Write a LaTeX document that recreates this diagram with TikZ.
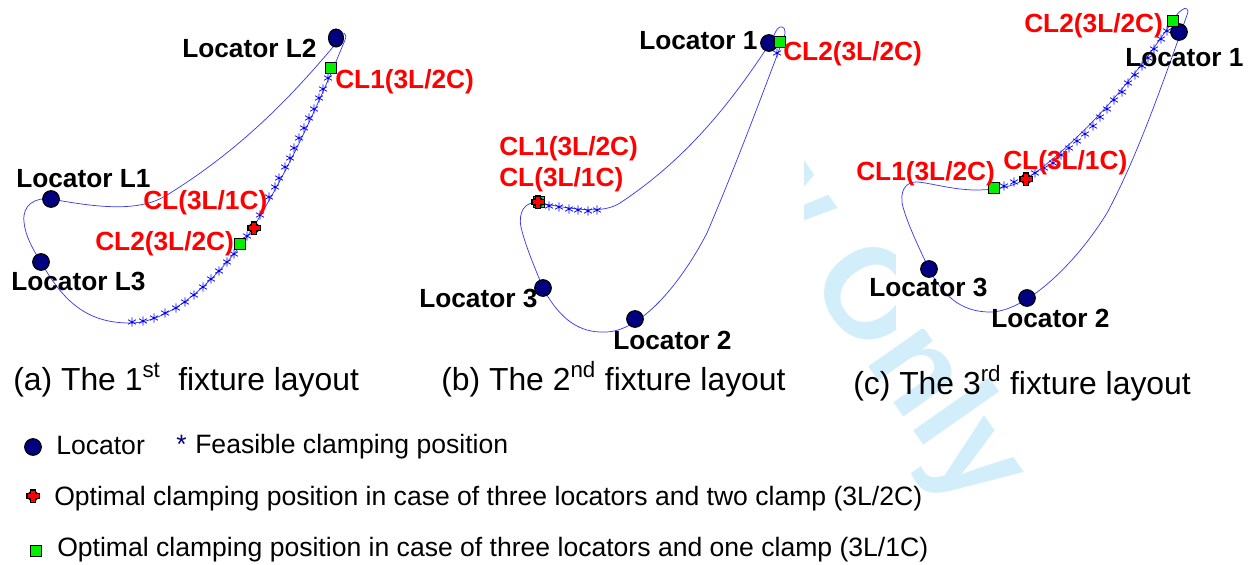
\documentclass[tikz,border=0pt]{standalone}
\usepackage{fontspec}
\setmainfont{Liberation Sans}
\usetikzlibrary{plotmarks,shapes.geometric}
\definecolor{wm}{HTML}{D3EEFB}
\definecolor{curve}{HTML}{3A3AF5}
\definecolor{loc}{HTML}{000080}
\definecolor{okgreen}{HTML}{00F000}
\tikzset{
  x=0.75pt,y=-0.75pt,
  lab/.style={anchor=base west,inner sep=0pt,font=\fontsize{19.7pt}{22pt}\selectfont\bfseries},
  blk/.style={lab,text=black},
  rd/.style={lab,text=red},
  captext/.style={anchor=base west,inner sep=0pt,font=\fontsize{23.9pt}{28pt}\selectfont},
  legtext/.style={anchor=base west,inner sep=0pt,font=\fontsize{19.92pt}{22pt}\selectfont},
  wmtxt/.style={inner sep=0pt,rotate=-55,text=wm,font=\fontsize{96pt}{100pt}\selectfont\bfseries},
  foil/.style={draw=curve,line width=0.55pt,line join=round},
  stars/.style={only marks,mark=asterisk,mark size=3.4pt,mark options={draw=blue,line width=0.55pt}},
  locdot/.style={circle,draw=black,fill=loc,line width=0.9pt,minimum size=12.4pt,inner sep=0pt},
  sqmark/.style={rectangle,draw=black,fill=okgreen,line width=0.9pt,minimum size=8pt,inner sep=0pt},
  redmark/.pic={
    \fill[black] (0,0) circle (5.6);
    \fill[black] (-7,-3.4) rectangle (7,3.4);
    \fill[black] (-3.4,-7) rectangle (3.4,7);
    \fill[red] (-5.5,-2.2) rectangle (5.5,2.2);
    \fill[red] (-2.2,-5.5) rectangle (2.2,5.5);
  },
}
\begin{document}
\begin{tikzpicture}
\useasboundingbox (0,0) rectangle (1252,564);
% watermark
\begin{scope}
  \clip (804,0) -- (895,0) -- (895,329) -- (1252,329) -- (1252,564) -- (804,564) -- cycle;
  \node[wmtxt,anchor=base west] (wmtext) at (806,278) {Only};
  \node[wmtxt,anchor=base east] (wmtextb) at (783,247) {w};
\end{scope}

% ---- panel a
\draw[foil] (333,47) .. controls (290,98) and (240,150) .. (167,195)
  .. controls (140,212) and (100,208) .. (51,199)
  .. controls (35,197) and (22,205) .. (24,222)
  .. controls (25,235) and (33,250) .. (41,262)
  .. controls (65,305) and (90,323) .. (130,323)
  .. controls (175,323) and (225,270) .. (253,228)
  .. controls (285,175) and (312,120) .. (345,40)
  .. controls (348,33) and (342,30) .. (338,36) -- cycle;
\draw plot[stars] coordinates {
 (132,322) (143,321) (154,318) (165,313) (176,308) (185,302) (194,295) (203,287) (211,279) (219,271) (227,262) (234,254) (247,236) (260,215) (269,197) (275,187) (279,178) (285,167) (290,158) (294,148) (299,138) (304,128) (309,118) (314,109) (319,98) (323,89) (328,78)};
\node[locdot] (a1) at (51,199) {};
\node[locdot,ellipse,minimum width=11.2pt,minimum height=13.4pt] (a2) at (336,38) {};
\node[locdot] (a3) at (41,262) {};
\node[sqmark] (a4) at (331,68) {};
\node[sqmark] (a5) at (240,244) {};
\pic at (254,228) {redmark};
\node[blk] (ta1) at (182,57) {Locator L2};
\node[blk] (ta2) at (16,187) {Locator L1};
\node[blk] (ta3) at (11,290) {Locator L3};
\node[rd] (ta4) at (335,88) {CL1(3L/2C)};
\node[rd] (ta5) at (143,209) {CL(3L/1C)};
\node[rd] (ta6) at (95,250) {CL2(3L/2C)};

% ---- panel b
\draw[foil] (772,40) .. controls (730,105) and (685,160) .. (620,203)
  .. controls (600,216) and (565,207) .. (538,203)
  .. controls (525,201) and (518,212) .. (521,227)
  .. controls (525,245) and (535,268) .. (543,288)
  .. controls (560,320) and (580,333) .. (605,332)
  .. controls (640,332) and (680,285) .. (707,233)
  .. controls (738,160) and (762,95) .. (784,37)
  .. controls (787,29) and (783,26) .. (780,27)
  .. controls (776,28) and (774,36) .. (772,40) -- cycle;
\draw plot[stars] coordinates {
 (549,206) (559,207) (569,209) (578,210) (588,211) (597,210) (777,53)};
\node[locdot] (b1) at (769,43) {};
\node[locdot] (b2) at (635,319) {};
\node[locdot] (b3) at (543,288) {};
\node[sqmark] (b4) at (780,42) {};
\node[sqmark] (b5) at (539,202) {};
\pic at (538,202) {redmark};
\node[blk] (tb1) at (639,49) {Locator 1};
\node[blk] (tb2) at (419,307) {Locator 3};
\node[blk] (tb3) at (613,349) {Locator 2};
\node[rd] (tb4) at (783,60) {CL2(3L/2C)};
\node[rd] (tb5) at (499,155) {CL1(3L/2C)};
\node[rd] (tb6) at (499,186) {CL(3L/1C)};

% ---- panel c
\draw[foil] (1176,16) .. controls (1130,85) and (1085,135) .. (1035,173)
  .. controls (1015,187) and (1000,190) .. (973,190)
  .. controls (950,189) and (935,184) .. (918,182)
  .. controls (905,181) and (899,192) .. (903,207)
  .. controls (908,225) and (920,250) .. (929,269)
  .. controls (945,300) and (965,312) .. (990,312)
  .. controls (1025,312) and (1075,265) .. (1107,213)
  .. controls (1138,155) and (1162,85) .. (1187,15)
  .. controls (1190,8) and (1185,7) .. (1182,10)
  .. controls (1180,11) and (1178,13) .. (1176,16) -- cycle;
\draw plot[stars] coordinates {
 (1004,186) (1014,182) (1035,173) (1044,168) (1053,163) (1061,155) (1069,148) (1077,141) (1085,134) (1093,126) (1100,117) (1107,109) (1114,100) (1122,92) (1128,83) (1135,75) (1142,66) (1148,58) (1154,49) (1161,39) (1167,31)};
\node[locdot] (c1) at (1179,32) {};
\node[locdot] (c2) at (1027,298) {};
\node[locdot] (c3) at (929,269) {};
\node[sqmark] (c4) at (1173,21) {};
\node[sqmark] (c5) at (994,188) {};
\pic at (1026,179) {redmark};
\node[rd] (tc1) at (1024,32) {CL2(3L/2C)};
\node[blk] (tc2) at (1125,66) {Locator 1};
\node[rd] (tc3) at (856,180) {CL1(3L/2C)};
\node[rd] (tc4) at (1003,169) {CL(3L/1C)};
\node[blk] (tc5) at (869,296) {Locator 3};
\node[blk] (tc6) at (991,327) {Locator 2};

% ---- captions
\node[captext] (cpa) at (13,390) {(a) The 1\textsuperscript{st}\ \ fixture layout};
\node[captext] (cpb) at (441,390) {(b) The 2\textsuperscript{nd} fixture layout};
\node[captext] (cpc) at (853,394) {(c) The 3\textsuperscript{rd} fixture layout};

% ---- legend
\node[locdot] (l1) at (33,447) {};
\node[legtext] (lt1) at (56,454) {Locator};
\node[legtext,text=loc] (lstar) at (176,453) {*};
\node[legtext] (lt2) at (195,453) {Feasible clamping position};
\pic at (33,496) {redmark};
\node[legtext] (lt3) at (54,505) {Optimal clamping position in case of three locators and two clamp (3L/2C)};
\node[sqmark] (l3) at (36,551) {};
\node[legtext] (lt4) at (57,556) {Optimal clamping position in case of three locators and one clamp (3L/1C)};
\end{tikzpicture}
\end{document}
